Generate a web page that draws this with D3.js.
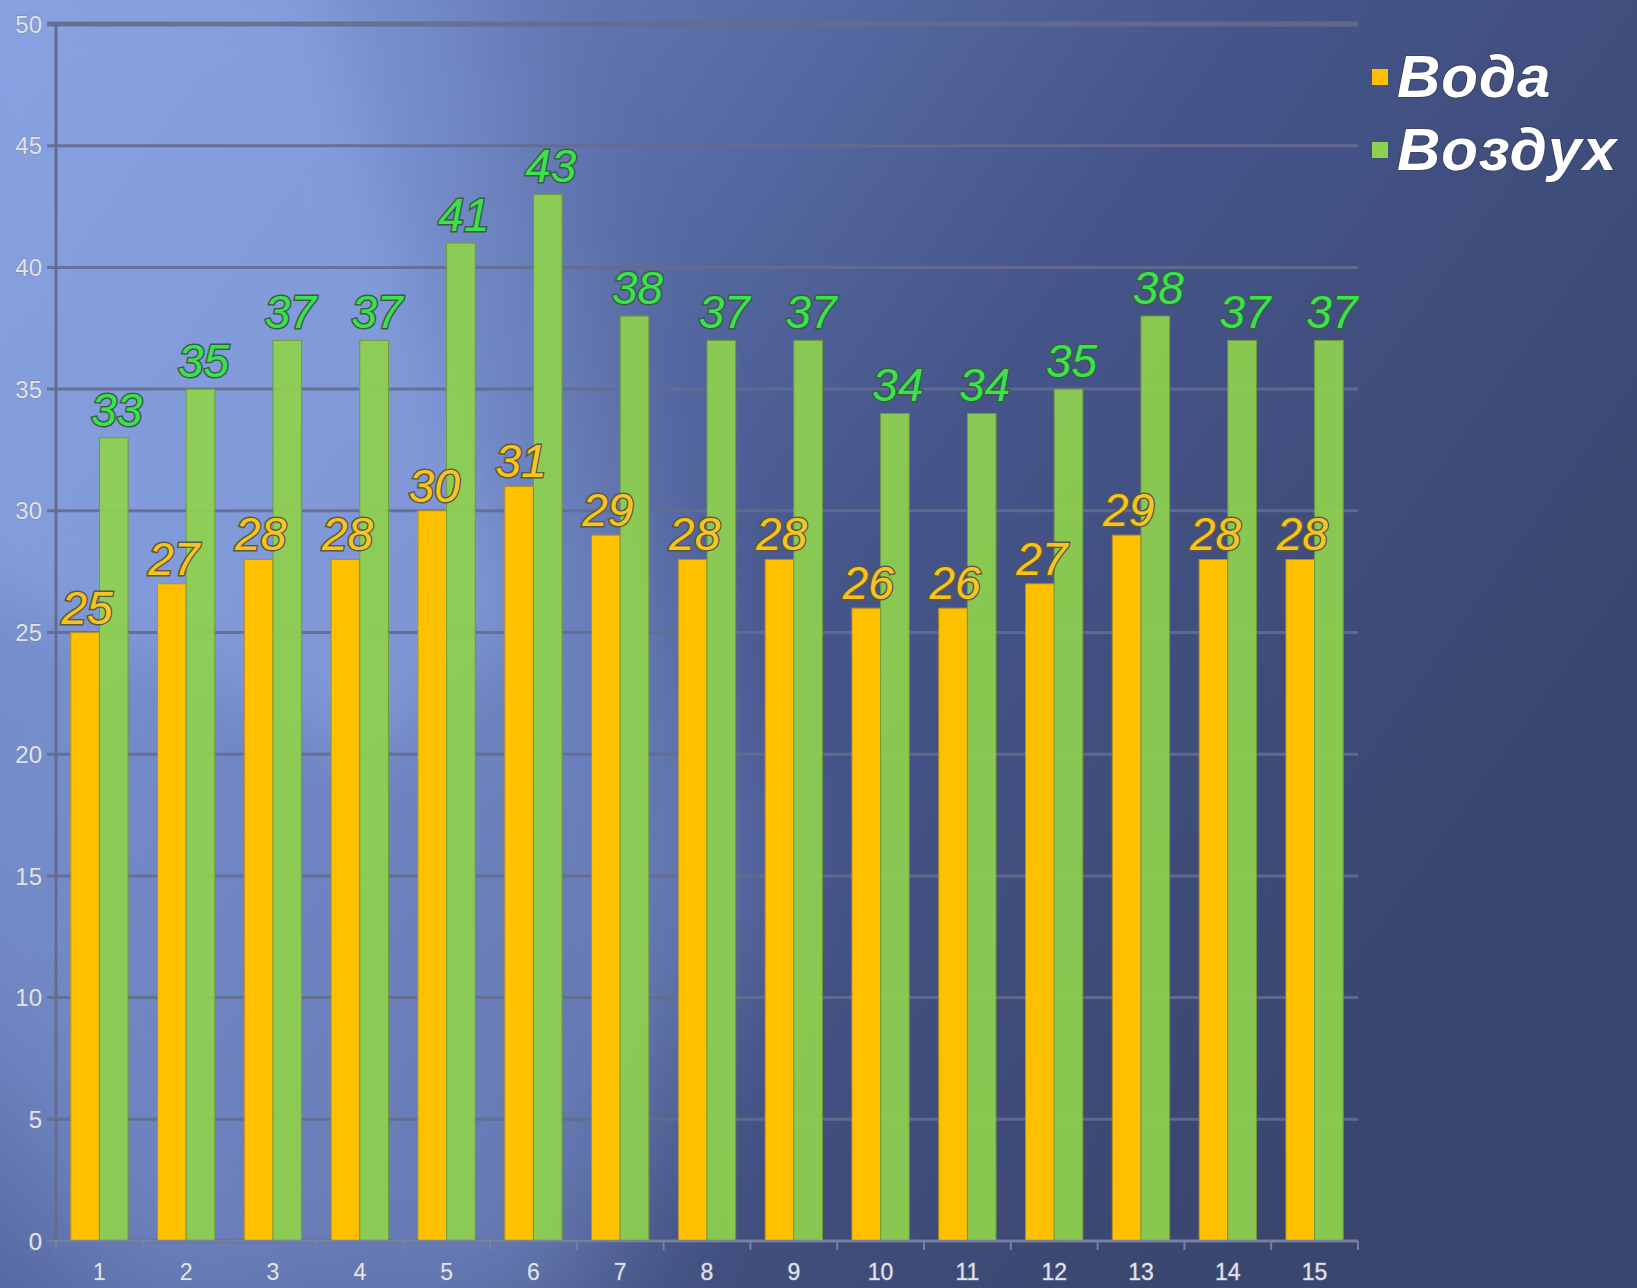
<!DOCTYPE html>
<html>
<head>
<meta charset="utf-8">
<script src="https://cdn.jsdelivr.net/npm/d3@7"></script>
<style>
  html, body { margin: 0; padding: 0; background: #3c4872; }
  svg { display: block; }
</style>
</head>
<body>
<div id="chart"></div>
<script>
"use strict";

// chart values
const days = ["1", "2", "3", "4", "5", "6", "7", "8", "9", "10", "11", "12", "13", "14", "15"];
const water = [25, 27, 28, 28, 30, 31, 29, 28, 28, 26, 26, 27, 29, 28, 28];
const air = [33, 35, 37, 37, 41, 43, 38, 37, 37, 34, 34, 35, 38, 37, 37];
const seriesNames = ["Вода", "Воздух"];
const yTicks = [0, 5, 10, 15, 20, 25, 30, 35, 40, 45, 50];

const W = 1637, H = 1288;
const plotLeft = 56, plotRight = 1358, plotTop = 24, plotBottom = 1241;
const labelFont = "'Liberation Sans', Arial, sans-serif";

const svg = d3.select("#chart").append("svg")
    .attr("width", W)
    .attr("height", H);

// background
const defs = svg.append("defs");
const bg = defs.append("linearGradient")
    .attr("id", "bg")
    .attr("gradientUnits", "userSpaceOnUse")
    .attr("x1", 0).attr("y1", 0)
    .attr("x2", 1400).attr("y2", 1000);
bg.append("stop").attr("offset", 0).attr("stop-color", "#7a92d2");
bg.append("stop").attr("offset", 0.35).attr("stop-color", "#5a6ea8");
bg.append("stop").attr("offset", 0.6).attr("stop-color", "#45558a");
bg.append("stop").attr("offset", 1).attr("stop-color", "#3a466e");

defs.append("filter").attr("id", "blur")
    .attr("x", "-50%").attr("y", "-50%").attr("width", "200%").attr("height", "200%")
  .append("feGaussianBlur").attr("stdDeviation", 70);
defs.append("filter").attr("id", "blur2")
    .attr("x", "-50%").attr("y", "-50%").attr("width", "200%").attr("height", "200%")
  .append("feGaussianBlur").attr("stdDeviation", 30);

svg.append("rect").attr("width", W).attr("height", H).attr("fill", "url(#bg)");
// diagonal light streak
svg.append("polygon")
    .attr("points", "-100,-100 420,-100 760,880 560,1350 120,1350 -100,950")
    .attr("fill", "#8aa4e4")
    .attr("opacity", 0.5)
    .attr("filter", "url(#blur)");
svg.append("polygon")
    .attr("points", "-60,-60 300,-60 520,620 380,760 -60,560")
    .attr("fill", "#90aaea")
    .attr("opacity", 0.45)
    .attr("filter", "url(#blur2)");

// scales
const x = d3.scaleBand().domain(days).range([plotLeft, plotRight]).padding(0);
const bw = x.bandwidth();
const x1 = d3.scaleBand().domain([0, 1]).range([bw * 0.17, bw * 0.83]).padding(0);
const y = d3.scaleLinear().domain([0, 50]).range([plotBottom, plotTop]);

// gridlines + y labels
svg.append("g").selectAll("line")
    .data(yTicks)
    .enter().append("line")
        .attr("x1", plotLeft - 9)
        .attr("x2", plotRight)
        .attr("y1", d => y(d))
        .attr("y2", d => y(d))
        .style("stroke", "#646c8e")
        .style("stroke-opacity", 0.9)
        .style("stroke-width", d => d === 50 ? 5 : 3);

svg.append("line")
    .attr("x1", plotLeft).attr("x2", plotLeft)
    .attr("y1", plotTop).attr("y2", plotBottom)
    .style("stroke", "#646c8e")
    .style("stroke-width", 3);

svg.append("g").selectAll("text")
    .data(yTicks)
    .enter().append("text")
        .attr("x", 42)
        .attr("y", d => y(d))
        .attr("dy", "0.36em")
        .attr("text-anchor", "end")
        .text(d => d)
        .style("font-family", labelFont)
        .style("font-size", "24px")
        .style("fill", "#dfe3ee")
        .style("stroke", "#7e86a0")
        .style("stroke-width", 1)
        .style("paint-order", "stroke");

// bars
const groups = svg.append("g").selectAll("g")
    .data(days)
    .enter().append("g")
        .attr("transform", d => "translate(" + x(d) + ",0)");

groups.append("rect")
    .attr("x", x1(0))
    .attr("width", x1.bandwidth())
    .attr("y", (d, i) => y(water[i]))
    .attr("height", (d, i) => plotBottom - y(water[i]))
    .style("fill", "#ffc000")
    .style("stroke", "#b8901c")
    .style("stroke-width", 1);

function waterLabels(sel) {
    return sel.selectAll("text")
        .data(water)
        .enter().append("text")
            .attr("x", (d, i) => x(days[i]) + x1(0) + x1.bandwidth() / 2 + 2)
            .attr("y", d => y(d) - 9)
            .attr("text-anchor", "middle")
            .text(d => d)
            .style("font-family", labelFont)
            .style("font-style", "italic")
            .style("font-size", "46px");
}

// water labels sit under the air bars
waterLabels(svg.append("g"))
    .style("fill", "#f8c41c")
    .style("stroke", "#5c5842")
    .style("stroke-width", 3)
    .style("paint-order", "stroke");

groups.append("rect")
    .attr("x", x1(1))
    .attr("width", x1.bandwidth())
    .attr("y", (d, i) => y(air[i]))
    .attr("height", (d, i) => plotBottom - y(air[i]))
    .style("fill", "#8ed14e")
    .style("fill-opacity", 0.93)
    .style("stroke", "#6f9a3c")
    .style("stroke-width", 1);

// part of the water labels shows through the air bars
const clip = defs.append("clipPath").attr("id", "airClip");
clip.selectAll("rect")
    .data(air)
    .enter().append("rect")
        .attr("x", (d, i) => x(days[i]) + x1(1))
        .attr("width", x1.bandwidth())
        .attr("y", d => y(d))
        .attr("height", d => plotBottom - y(d));
waterLabels(svg.append("g").attr("clip-path", "url(#airClip)"))
    .style("fill", "#f4c62a")
    .style("fill-opacity", 0.8);

svg.append("g").selectAll("text")
    .data(air)
    .enter().append("text")
        .attr("x", (d, i) => x(days[i]) + x1(1) + x1.bandwidth() / 2 + 3)
        .attr("y", d => y(d) - 12)
        .attr("text-anchor", "middle")
        .text(d => d)
        .style("font-family", labelFont)
        .style("font-style", "italic")
        .style("font-size", "46px")
        .style("fill", "#3ae24c")
        .style("stroke", "#3c5a48")
        .style("stroke-width", 3)
        .style("paint-order", "stroke");

// x axis
const xAxis = svg.append("g");
xAxis.append("line")
    .attr("x1", plotLeft - 9).attr("x2", plotRight)
    .attr("y1", plotBottom).attr("y2", plotBottom)
    .style("stroke", "#77809e")
    .style("stroke-width", 2.5);
xAxis.selectAll("line.tick")
    .data(d3.range(days.length + 1))
    .enter().append("line")
        .attr("class", "tick")
        .attr("x1", i => plotLeft + i * bw)
        .attr("x2", i => plotLeft + i * bw)
        .attr("y1", plotBottom)
        .attr("y2", plotBottom + 9)
        .style("stroke", "#77809e")
        .style("stroke-width", 2);
xAxis.selectAll("text")
    .data(days)
    .enter().append("text")
        .attr("x", d => x(d) + bw / 2)
        .attr("y", 1280)
        .attr("text-anchor", "middle")
        .text(d => d)
        .style("font-family", labelFont)
        .style("font-size", "23px")
        .style("fill", "#dfe3ee")
        .style("stroke", "#7a829a")
        .style("stroke-width", 1)
        .style("paint-order", "stroke");

// legend
const colors = ["#ffc000", "#8ed14e"];
const legend = svg.append("g").selectAll("g")
    .data(seriesNames)
    .enter().append("g")
        .attr("transform", (d, i) => "translate(1372," + (97 + i * 73) + ")");
legend.append("rect")
    .attr("x", 0)
    .attr("y", -28)
    .attr("width", 16)
    .attr("height", 16)
    .style("fill", (d, i) => colors[i]);
legend.append("text")
    .attr("x", 25)
    .attr("y", 0)
    .text(d => d)
    .style("font-family", labelFont)
    .style("font-style", "italic")
    .style("font-weight", "bold")
    .style("font-size", "60px")
    .style("letter-spacing", "1px")
    .style("fill", "#ffffff")
    .style("stroke", "#3a4466")
    .style("stroke-width", 2)
    .style("paint-order", "stroke");
</script>
</body>
</html>
